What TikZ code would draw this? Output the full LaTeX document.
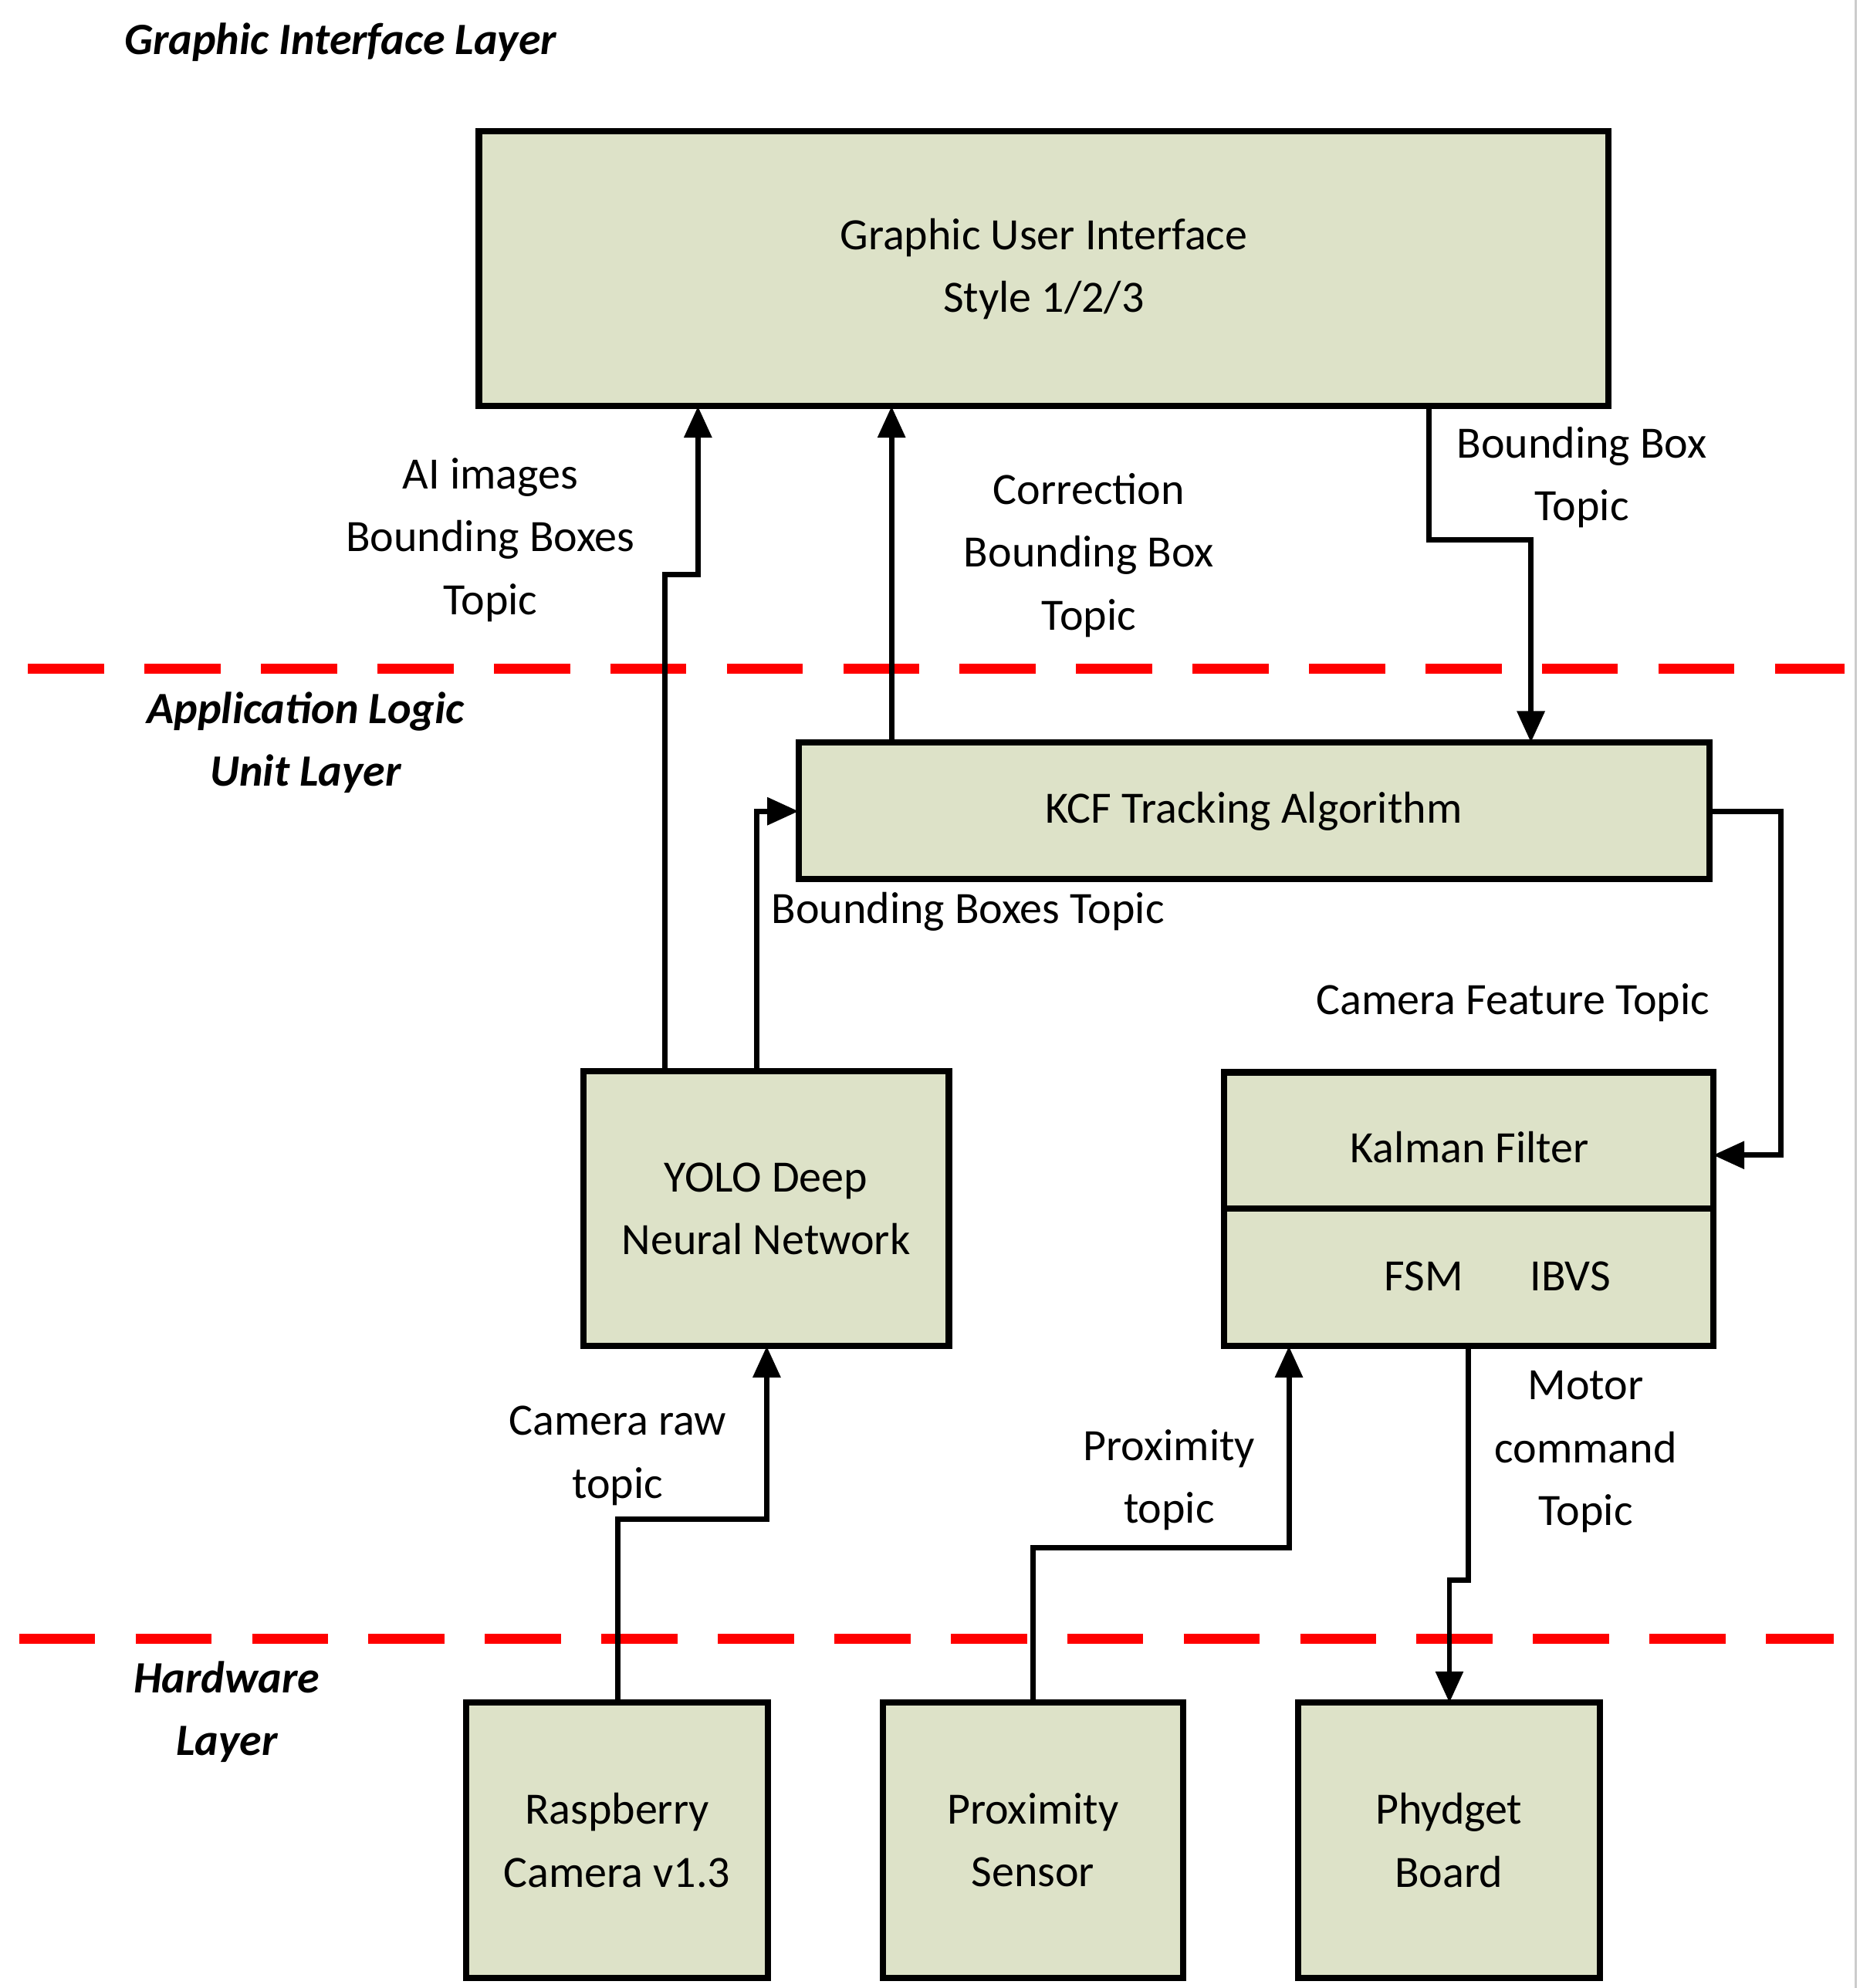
\documentclass[tikz,border=0pt]{standalone}
\usepackage{fontspec}
\setmainfont{Carlito}
\usetikzlibrary{arrows.meta}
\definecolor{boxfill}{HTML}{DDE2C8}
\begin{document}
\begin{tikzpicture}[x=0.01cm,y=-0.01cm,
  box/.style={draw=black,line width=1.4pt,fill=boxfill},
  lbl/.style={align=center,font=\fontsize{10}{14}\selectfont,inner sep=0pt},
  lay/.style={align=center,font=\fontsize{10}{14}\selectfont\bfseries\itshape,inner sep=0pt},
  con/.style={line width=1.2pt,-{Triangle[length=7pt,width=6pt]}},
  sep/.style={red,line width=2.2pt,dash pattern=on 17pt off 9pt}]
\useasboundingbox (0,0) rectangle (1460,1561);
\draw[gray!40,line width=0.6pt] (1457,0) -- (1457,1561);
% boxes
\draw[box] (376,103) rectangle (1263,319);
\node[lbl] (gui) at (819.5,211) {Graphic User Interface\\Style 1/2/3};
\draw[box] (627,583) rectangle (1342,690);
\node[lbl] (kcf) at (984.5,637) {KCF Tracking Algorithm};
\draw[box] (458,841) rectangle (745,1057);
\node[lbl] (yolo) at (601.5,949) {YOLO Deep\\Neural Network};
\draw[box] (961,842) rectangle (1345,1057);
\draw[line width=1.4pt] (961,949) -- (1345,949);
\node[lbl] (kal) at (1154,901) {Kalman Filter};
\node[lbl] (fsm) at (1118,1002) {FSM};
\node[lbl] (ibvs) at (1233,1002) {IBVS};
\draw[box] (366,1337) rectangle (603,1553);
\node[lbl] (cam) at (484.5,1445) {Raspberry\\Camera v1.3};
\draw[box] (693,1337) rectangle (929,1553);
\node[lbl] (prox) at (811,1445) {Proximity\\Sensor};
\draw[box] (1019,1337) rectangle (1256,1553);
\node[lbl] (phy) at (1137.5,1445) {Phydget\\Board};
% separators
\draw[sep] (22,525) -- (1448,525);
\draw[sep] (15,1287) -- (1440,1287);
% connectors
\coordinate (a1) at (522,841); \coordinate (a2) at (548,319);
\draw[con] (a1) -- (522,451) -- (548,451) -- (a2);
\coordinate (b1) at (594,841); \coordinate (b2) at (627,637);
\draw[con] (b1) -- (594,637) -- (b2);
\coordinate (c1) at (700,583); \coordinate (c2) at (700,319);
\draw[con] (c1) -- (c2);
\coordinate (d1) at (1122,319); \coordinate (d2) at (1202,583);
\draw[con] (d1) -- (1122,424) -- (1202,424) -- (d2);
\coordinate (e1) at (1342,637); \coordinate (e2) at (1345,907);
\draw[con] (e1) -- (1398,637) -- (1398,907) -- (e2);
\coordinate (f1) at (485,1337); \coordinate (f2) at (602,1057);
\draw[con] (f1) -- (485,1193) -- (602,1193) -- (f2);
\coordinate (g1) at (811,1337); \coordinate (g2) at (1012,1057);
\draw[con] (g1) -- (811,1215) -- (1012,1215) -- (g2);
\coordinate (h1) at (1153,1057); \coordinate (h2) at (1138,1337);
\draw[con] (h1) -- (1153,1241) -- (1138,1241) -- (h2);
% labels
\node[lbl] (l1) at (385,424) {AI images\\Bounding Boxes\\Topic};
\node[lbl] (l2) at (855,436) {Correction\\Bounding Box\\Topic};
\node[lbl] (l3) at (1242,375) {Bounding Box\\Topic};
\node[lbl,anchor=west] (l4) at (605,716) {Bounding Boxes Topic};
\node[lbl] (l5) at (1188,787) {Camera Feature Topic};
\node[lbl] (l6) at (485,1143) {Camera raw\\topic};
\node[lbl] (l7) at (918,1162) {Proximity\\topic};
\node[lbl] (l8) at (1245,1140) {Motor\\command\\Topic};
\node[lay,anchor=west] (t1) at (97,33) {Graphic Interface Layer};
\node[lay] (t2) at (240,583) {Application Logic\\Unit Layer};
\node[lay] (t3) at (178,1344) {Hardware\\Layer};
\end{tikzpicture}
\end{document}
